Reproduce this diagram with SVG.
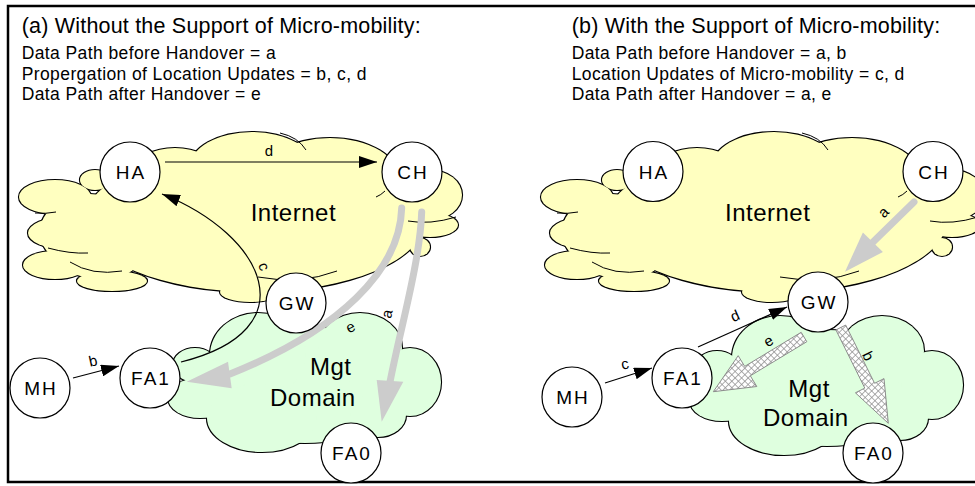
<svg xmlns="http://www.w3.org/2000/svg" width="975" height="486" viewBox="0 0 975 486">
<style>
 text { font-family: "Liberation Sans", Arial, Helvetica, sans-serif; fill:#000; }
 .title { font-size:21.5px; letter-spacing:0.2px }
 .sub { font-size:17.5px; letter-spacing:0.4px }
 .node circle { fill:#fff; stroke:#000; stroke-width:1.2 }
 .node text { font-size:19px; letter-spacing:2px; text-anchor:middle }
 .big { font-size:24px; letter-spacing:0.5px }
 .lbl { font-size:15px; text-anchor:middle }
 .edge { stroke:#000; stroke-width:2.2 }
 .nostroke { stroke:none }
 .yel { fill:#FFFFC0 }
 .grn { fill:#DFFFDF }
 .inner { fill:none; stroke:#000; stroke-width:1 }
 .thin { fill:none; stroke:#000; stroke-width:1.2; marker-end:url(#ah) }
 .gshaft { fill:none; stroke:#CCCCCC; stroke-width:7; stroke-linecap:round }
 .ghead { fill:#CCCCCC }
 .hatch { fill:url(#hatch); stroke:#8C8C8C; stroke-width:1 }
 .frame { fill:none; stroke:#000; stroke-width:2.5 }
</style>
<defs>
 <marker id="ah" markerUnits="userSpaceOnUse" markerWidth="18" markerHeight="12" refX="18" refY="6" orient="auto">
  <path d="M0,0 L18,6 L0,12 z" fill="#000"/>
 </marker>
 <pattern id="hatch" width="4.6" height="4.6" patternUnits="userSpaceOnUse" patternTransform="rotate(45)">
  <rect width="4.6" height="4.6" fill="#fff"/>
  <path d="M0,0 H4.6 M0,0 V4.6" stroke="#8C8C8C" stroke-width="1.4"/>
 </pattern>
 <g id="inet">
  <ellipse cx="255" cy="220" rx="170" ry="72"/>
  <ellipse cx="175" cy="170" rx="40" ry="22"/>
  <ellipse cx="252" cy="167" rx="62" ry="35"/>
  <ellipse cx="330" cy="180" rx="70" ry="42"/>
  <ellipse cx="430" cy="195" rx="32" ry="25"/>
  <ellipse cx="430" cy="225" rx="28" ry="12"/>
  <ellipse cx="420" cy="247" rx="10" ry="9"/>
  <ellipse cx="95" cy="180" rx="15" ry="10"/>
  <ellipse cx="90" cy="232" rx="50" ry="38"/>
  <ellipse cx="55" cy="197" rx="36" ry="17"/>
  <ellipse cx="65" cy="233" rx="37" ry="16"/>
  <ellipse cx="55" cy="265" rx="32" ry="14"/>
  <ellipse cx="100" cy="266" rx="35" ry="12"/>
  <ellipse cx="112" cy="281" rx="35" ry="10"/>
  <ellipse cx="250" cy="292" rx="30" ry="10"/>
 </g>
 <g id="inetInner">
  <path d="M280,133 Q298,137 306,150"/>
  <path d="M258,277 Q300,285 337,271"/>
  <path d="M35,213 Q46,214 56,212"/>
  <path d="M48,248 Q70,254 88,253"/>
  <path d="M70,262 Q92,276 122,271"/>
  <path d="M408,221 Q430,225 456,217"/>
  <path d="M376,197 Q381,195 385,191"/>
 </g>
 <g id="mgt">
  <ellipse cx="305" cy="385" rx="100" ry="58"/>
  <ellipse cx="258" cy="355" rx="48" ry="42"/>
  <ellipse cx="195" cy="365" rx="22" ry="17"/>
  <ellipse cx="215" cy="385" rx="30" ry="25"/>
  <ellipse cx="200" cy="398" rx="32" ry="20"/>
  <ellipse cx="262" cy="418" rx="55" ry="34"/>
  <ellipse cx="360" cy="348" rx="42" ry="35"/>
  <ellipse cx="410" cy="382" rx="31" ry="34"/>
  <ellipse cx="378" cy="415" rx="28" ry="22"/>
 </g>
</defs>

<rect width="975" height="486" fill="#fff"/>
<path class="frame" d="M980,6 H8 V482 H980"/>

<g id="texts">
 <text class="title" x="21.7" y="33">(a) Without the Support of Micro-mobility:</text>
 <text class="sub" x="21.7" y="59">Data Path before Handover = a</text>
 <text class="sub" x="21.7" y="79.5">Propergation of Location Updates = b, c, d</text>
 <text class="sub" x="21.7" y="100">Data Path after Handover = e</text>
 <text class="title" x="571.7" y="33">(b) With the Support of Micro-mobility:</text>
 <text class="sub" x="571.7" y="59">Data Path before Handover = a, b</text>
 <text class="sub" x="571.7" y="79.5">Location Updates of Micro-mobility = c, d</text>
 <text class="sub" x="571.7" y="100">Data Path after Handover = a, e</text>
</g>

<g id="cloud-internet-a">
 <use href="#inet" class="yel edge"/>
 <use href="#inet" class="yel nostroke"/>
 <use href="#inetInner" class="inner"/>
 <text class="big" x="250.7" y="221">Internet</text>
</g>
<g id="cloud-mgt-a">
 <use href="#mgt" class="grn edge"/>
 <use href="#mgt" class="grn nostroke"/>
 <text class="big" x="310" y="375">Mgt</text>
 <text class="big" x="270" y="406">Domain</text>
</g>
<g id="cloud-internet-b">
 <use href="#inet" class="yel edge" transform="translate(522,0)"/>
 <use href="#inet" class="yel nostroke" transform="translate(522,0)"/>
 <use href="#inetInner" class="inner" transform="translate(522,0)"/>
 <text class="big" x="725" y="221">Internet</text>
</g>
<g id="cloud-mgt-b">
 <use href="#mgt" class="grn edge" transform="translate(522,3)"/>
 <use href="#mgt" class="grn nostroke" transform="translate(522,3)"/>
 <text class="big" x="788.3" y="397">Mgt</text>
 <text class="big" x="763" y="426">Domain</text>
</g>

<g id="connectors">
 <!-- panel a -->
 <path class="thin" d="M165,162 L377,162"/>
 <path class="thin" d="M181,362 C310,330 265,235 162,194"/>
 <path class="thin" d="M73,378 L119,366"/>
 <path class="gshaft" d="M421.7,212 C420,262 400,330 390,382"/>
 <polygon class="ghead" points="376.7,380 381.7,421.7 403.3,381.7"/>
 <path class="gshaft" d="M401.7,208 C400,270 340,330 230,374"/>
 <polygon class="ghead" points="228,361.7 186.7,381.7 231.7,388.3"/>
 <!-- panel b -->
 <path class="thin" d="M605,383 L652,368"/>
 <path class="thin" d="M698,347 L787,307"/>
 <path class="gshaft" d="M914,202 L871,244"/>
 <polygon class="ghead" points="862.9,232.4 845,271.7 882.9,252"/>
 <polygon class="hatch" points="806.8,341.7 750.3,375.8 756.8,386.5 713.3,391.7 738.2,355.7 744.7,366.4 801.2,332.3"/>
 <polygon class="hatch" points="845.7,325.1 874.6,383.3 884,378.6 888.3,423.3 855.4,392.8 864.8,388.1 835.9,329.9"/>
 <!-- labels -->
 <text class="lbl" x="269" y="156">d</text>
 <text class="lbl" transform="translate(263,267) rotate(70)" y="4">c</text>
 <text class="lbl" transform="translate(93,361) rotate(-12)" y="5">b</text>
 <text class="lbl" transform="translate(351,328) rotate(-27)" y="4">e</text>
 <text class="lbl" transform="translate(388,314) rotate(-78)" y="4">a</text>
 <text class="lbl" transform="translate(884,213) rotate(-45)" y="4">a</text>
 <text class="lbl" transform="translate(735,316) rotate(-24)" y="5">d</text>
 <text class="lbl" transform="translate(625,365) rotate(-12)" y="4">c</text>
 <text class="lbl" transform="translate(769,342) rotate(-31)" y="4">e</text>
 <text class="lbl" transform="translate(868,356) rotate(64)" y="5">b</text>
</g>

<g id="node-HA-a" class="node"><circle cx="130" cy="172" r="30"/><text x="131" y="179">HA</text></g>
<g id="node-CH-a" class="node"><circle cx="412" cy="172" r="30"/><text x="413" y="179">CH</text></g>
<g id="node-GW-a" class="node"><circle cx="296" cy="303" r="30"/><text x="297" y="310">GW</text></g>
<g id="node-FA1-a" class="node"><circle cx="150" cy="378" r="30"/><text x="151" y="385">FA1</text></g>
<g id="node-MH-a" class="node"><circle cx="40" cy="388" r="30"/><text x="41" y="395">MH</text></g>
<g id="node-FA0-a" class="node"><circle cx="351" cy="453" r="30"/><text x="352" y="460">FA0</text></g>

<g id="node-HA-b" class="node"><circle cx="653" cy="171.5" r="30"/><text x="654" y="178.5">HA</text></g>
<g id="node-CH-b" class="node"><circle cx="933" cy="171.5" r="30"/><text x="934" y="178.5">CH</text></g>
<g id="node-GW-b" class="node"><circle cx="818" cy="302" r="30"/><text x="819" y="309">GW</text></g>
<g id="node-FA1-b" class="node"><circle cx="682" cy="378" r="30"/><text x="683" y="385">FA1</text></g>
<g id="node-MH-b" class="node"><circle cx="572" cy="397" r="30"/><text x="573" y="404">MH</text></g>
<g id="node-FA0-b" class="node"><circle cx="873" cy="453" r="30"/><text x="874" y="460">FA0</text></g>
</svg>
